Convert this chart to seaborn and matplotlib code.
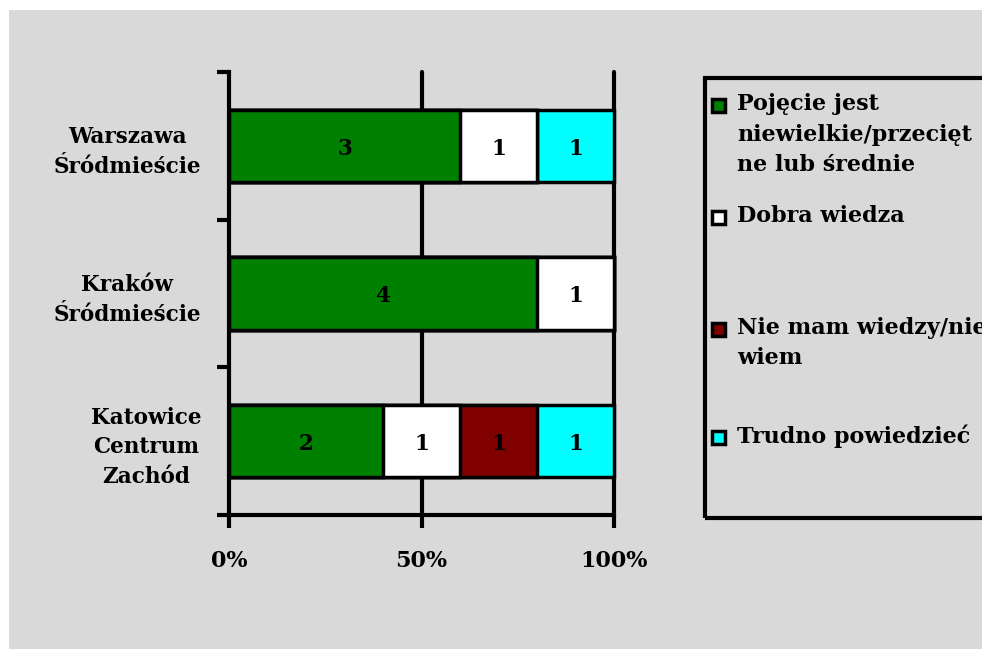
import numpy as np
import pandas as pd
import matplotlib
matplotlib.use("Agg")
import matplotlib.pyplot as plt
from matplotlib.patches import Rectangle
import seaborn as sns

# Survey answers per district (counts)
districts = ["Warszawa\nŚródmieście", "Kraków\nŚródmieście", "Katowice\nCentrum\nZachód"]
series_names = [
    "Pojęcie jest\nniewielkie/przecięt\nne lub średnie",
    "Dobra wiedza",
    "Nie mam wiedzy/nie\nwiem",
    "Trudno powiedzieć",
]
pojecie = [3, 4, 2]
dobra = [1, 1, 1]
nie_mam = [0, 0, 1]
trudno = [1, 0, 1]
colors = ["#008000", "#FFFFFF", "#800000", "#00FFFF"]
x_ticks = [0, 50, 100]
x_tick_labels = ["0%", "50%", "100%"]

sns.set_theme(style="white")
FONT = "DejaVu Serif"
plt.rcParams["font.family"] = [FONT]
plt.rcParams["font.weight"] = "bold"
plt.rcParams["text.color"] = "black"
plt.rcParams["xtick.color"] = "black"
plt.rcParams["ytick.color"] = "black"

counts = np.array([pojecie, dobra, nie_mam, trudno], dtype=float)
totals = counts.sum(axis=0)
shares = counts / totals * 100
cum = np.cumsum(shares, axis=0)

BG = "#D9D9D9"
fig = plt.figure(figsize=(9.82, 6.49), dpi=100, facecolor="white")
fig.patches.append(Rectangle((9 / 982, 0), 1, 1 - 10 / 649, transform=fig.transFigure,
                             facecolor=BG, edgecolor="none", zorder=-10))

ax = fig.add_axes([229 / 982, 1 - 515 / 649, (614 - 229) / 982, (515 - 72) / 649])
ax.set_facecolor(BG)
ax.patch.set_alpha(0)

# Vertical gridlines behind the bars
for xv in x_ticks[1:]:
    ax.axvline(xv, color="black", lw=3, zorder=0, clip_on=False)

# Stacked 100% bars: draw cumulative totals from the widest down
for i in range(len(series_names) - 1, -1, -1):
    df = pd.DataFrame({"district": districts, "value": cum[i]})
    sns.barplot(data=df, y="district", x="value", orient="h", color=colors[i],
                saturation=1, width=0.49, edgecolor="black", linewidth=2.5,
                ax=ax, zorder=2)
for p in ax.patches:
    p.set_clip_on(False)

# Count labels centred in each segment
for i in range(len(series_names)):
    left = cum[i] - shares[i]
    for j in range(len(districts)):
        if counts[i, j] > 0:
            ax.text(left[j] + shares[i, j] / 2, j + 0.02, f"{int(counts[i, j])}",
                    ha="center", va="center", fontsize=15.5, fontweight="bold",
                    color="black", zorder=5)

ax.set_xlim(0, 100)
ax.set_ylim(2.5, -0.5)
ax.set_xlabel("")
ax.set_ylabel("")
ax.set_xticks(x_ticks)
ax.set_xticklabels(x_tick_labels, fontsize=16, fontweight="bold")
ax.set_yticks(range(len(districts)))
ax.set_yticklabels(districts, fontsize=15.5, fontweight="bold", linespacing=1.45)
ax.set_yticks(np.arange(-0.5, len(districts)), minor=True)

for s in ["top", "right"]:
    ax.spines[s].set_visible(False)
for s in ["left", "bottom"]:
    ax.spines[s].set_color("black")
    ax.spines[s].set_linewidth(3)
    ax.spines[s].set_zorder(6)

ax.tick_params(axis="x", which="major", direction="out", length=9, width=3,
               color="black", pad=16, bottom=True)
ax.tick_params(axis="y", which="major", length=0, pad=20)
ax.tick_params(axis="y", which="minor", direction="out", length=9, width=3,
               color="black", left=True)
for lab in ax.get_yticklabels():
    lab.set_horizontalalignment("right")
    lab.set_multialignment("center")

# Legend panel
fig.patches.append(Rectangle((705 / 982, 1 - 518 / 649), 0.4, (518 - 78) / 649,
                             transform=fig.transFigure, facecolor="none",
                             edgecolor="black", linewidth=3, clip_on=False, zorder=3))
entry_y = [105, 217, 329, 437]
for name, col, ypx in zip(series_names, colors, entry_y):
    fig.patches.append(Rectangle((712 / 982, 1 - (ypx + 7) / 649), 13 / 982, 13 / 649,
                                 transform=fig.transFigure, facecolor=col,
                                 edgecolor="black", linewidth=2.5, zorder=4))
    fig.text(737 / 982, 1 - (ypx - 12) / 649, name, ha="left", va="top",
             fontsize=16, fontweight="bold", linespacing=1.5, color="black")

fig.savefig("out.png", dpi=100, facecolor="white")
